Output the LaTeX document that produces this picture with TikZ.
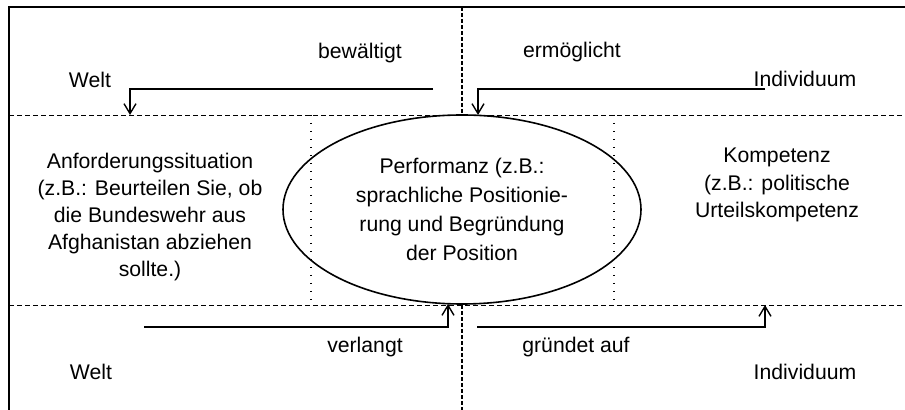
\documentclass[tikz,border=0pt]{standalone}
\usepackage{fontspec}
\setmainfont{Liberation Sans}
\usetikzlibrary{arrows.meta,shapes.geometric,positioning}

\begin{document}
\begin{tikzpicture}[x=0.5pt,y=-0.5pt,
  lbl/.style={font=\fontsize{10.6}{13.6}\selectfont,inner sep=0pt},
  txt/.style={lbl,align=center},
  pfeil/.style={line width=0.7pt,-{Straight Barb[length=5pt,width=6pt]}},
  trenn/.style={line width=0.45pt,dash pattern=on 2.5pt off 1.5pt},
  mitte/.style={line width=0.8pt,dash pattern=on 1.8pt off 1.2pt},
  punkt/.style={line width=0.6pt,dash pattern=on 0.5pt off 3.5pt}]
\useasboundingbox (0,0) rectangle (905,410);
% frame and dividers
\draw[line width=1pt] (9,410) -- (9,7) -- (905,7);
\draw[trenn] (9,115) -- (905,115);
\draw[trenn] (9,305) -- (905,305);
\draw[mitte] (462,7) -- (462,115);
\draw[mitte] (462,305) -- (462,410);
\draw[punkt] (311,115) -- (311,305);
\draw[punkt] (614,115) -- (614,305);
% fields
\node[draw,ellipse,line width=0.8pt,minimum width=179pt,minimum height=94.5pt,
  inner sep=0pt,align=center,font=\fontsize{10.6}{14.5}\selectfont] (perf) at (462,209.5)
  {Performanz (z.B.:\\sprachliche Positionie-\\rung und Begründung\\der Position};
\node[txt] (anf) at (150,217) {Anforderungssituation\\(z.B.: Beurteilen Sie, ob\\die Bundeswehr aus\\Afghanistan abziehen\\sollte.)};
\node[txt] (komp) at (777,185) {Kompetenz\\(z.B.: politische\\Urteilskompetenz};
% labels
\node[lbl] (weltA) at (90,80) {Welt};
\node[lbl] (indA) at (805,79) {Individuum};
\node[lbl] (bew) at (360,53) {bewältigt};
\node[lbl] (erm) at (572,52) {ermöglicht};
\node[lbl] (verl) at (365,347) {verlangt};
\node[lbl] (grund) at (576,347) {gründet auf};
\node[lbl] (weltB) at (91,372) {Welt};
\node[lbl] (indB) at (805,372) {Individuum};
% arrows
\coordinate (a) at (433,89);
\coordinate (b) at (130,115);
\coordinate (c) at (765,89);
\coordinate (d) at (478,115);
\coordinate (e) at (144,327);
\coordinate (f) at (448,304);
\coordinate (g) at (477,327);
\coordinate (h) at (765,305);
\draw[pfeil] (a) -| (b);
\draw[pfeil] (c) -| (d);
\draw[pfeil] (e) -| (f);
\draw[pfeil] (g) -| (h);
\end{tikzpicture}
\end{document}
